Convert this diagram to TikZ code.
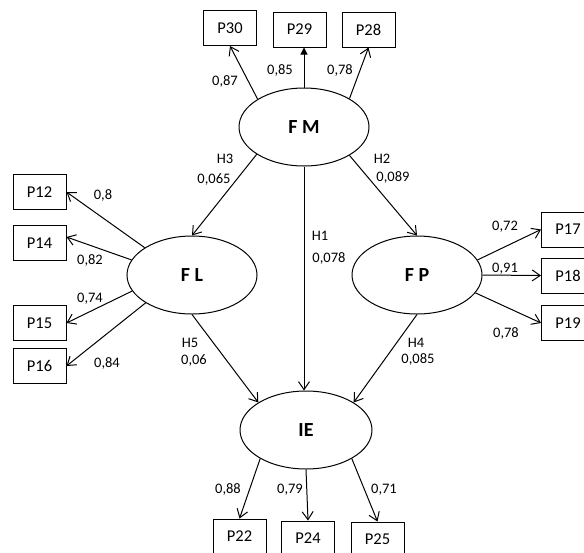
\documentclass[tikz,border=0pt]{standalone}
\usepackage{fontspec}
\setmainfont{Carlito}
\usetikzlibrary{arrows.meta,shapes.geometric}
\begin{document}
\begin{tikzpicture}[x=1pt,y=-1pt,
 box/.style={draw,line width=1pt,minimum width=53pt,minimum height=35pt,inner sep=0pt,font=\fontsize{16.5}{18}\selectfont},
 lat/.style={draw,ellipse,line width=1pt,minimum width=130pt,minimum height=78pt,inner sep=0pt,font=\fontsize{20}{22}\selectfont\bfseries},
 lbl/.style={anchor=base,inner sep=0pt,font=\fontsize{14.5}{16}\selectfont},
 arr/.style={line width=1pt,-{Straight Barb[length=8pt,width=11pt,line width=1pt]}},
 farr/.style={line width=1pt,-{Triangle[length=7pt,width=7pt]}}
 ]
\useasboundingbox (0,0) rectangle (584,552);
\clip (0,0) rectangle (584,552);
% latent variables
\node[lat] (FM) at (304,127) {F M};
\node[lat] (FL) at (192,275) {F L};
\node[lat] (FP) at (417,275) {F P};
\node[lat,minimum width=132pt] (IE) at (306,430) {IE};
% indicators
\node[box] (P30) at (230,28) {P30};
\node[box] (P29) at (299.5,29.5) {P29};
\node[box] (P28) at (368.5,29.5) {P28};
\node[box] (P12) at (39.5,192) {P12};
\node[box] (P14) at (39.5,243) {P14};
\node[box] (P15) at (39.5,323) {P15};
\node[box] (P16) at (39.5,366) {P16};
\node[box] (P17) at (568,229.5) {P17};
\node[box] (P18) at (568,275.5) {P18};
\node[box] (P19) at (568,323) {P19};
\node[box] (P22) at (239.5,536.5) {P22};
\node[box] (P24) at (308,538.5) {P24};
\node[box] (P25) at (377.5,539.5) {P25};
% connectors
\draw[arr] (FM.149.6) -- (P30.south);
\draw[farr] (FM.north) -- (FM.north |- P29.south);
\draw[arr] (FM.32.2) -- (P28.south);
\draw[arr] (FM.210.8) -- (FL.north);
\draw[arr] (FM.328.7) -- (FP.north);
\draw[arr] (FM.south) -- (FM.south |- IE.north);
\draw[arr] (FL.150) -- (P12.east);
\draw[arr] (FL.166.4) -- ([yshift=6pt]P14.east);
\draw[arr] (FL.195.3) -- (P15.east);
\draw[arr] (FL.211.7) -- (P16.east);
\draw[arr] (FL.south) -- (IE.150.6);
\draw[arr] (FP.14.7) -- (P17.west);
\draw[arr] (FP.east) -- (P18.west);
\draw[arr] (FP.343) -- (P19.west);
\draw[arr] (FP.south) -- (IE.30.8);
\draw[arr] (IE.212.2) -- (P22.north);
\draw[arr] (IE.south) -- (P24.north);
\draw[arr] (IE.328.3) -- (P25.north);
% labels
\node[lbl] (l1) at (225,85) {0,87};
\node[lbl] (l2) at (280,74) {0,85};
\node[lbl] (l3) at (340,74) {0,78};
\node[lbl] (l4) at (225,163) {H3};
\node[lbl] (l5) at (214,183) {0,065};
\node[lbl] (l6) at (382,163) {H2};
\node[lbl] (l7) at (393,181) {0,089};
\node[lbl] (l8) at (103,199) {0,8};
\node[lbl] (l9) at (90,264) {0,82};
\node[lbl] (l10) at (90,302) {0,74};
\node[lbl] (l11) at (107,367) {0,84};
\node[lbl] (l12) at (190,347) {H5};
\node[lbl] (l13) at (194,364) {0,06};
\node[lbl] (l14) at (320,240) {H1};
\node[lbl] (l15) at (329,262) {0,078};
\node[lbl] (l16) at (505,230) {0,72};
\node[lbl] (l17) at (505,272) {0,91};
\node[lbl] (l18) at (506,337) {0,78};
\node[lbl] (l19) at (416,347) {H4};
\node[lbl] (l20) at (418,363) {0,085};
\node[lbl] (l21) at (228,493) {0,88};
\node[lbl] (l22) at (290,493) {0,79};
\node[lbl] (l23) at (384,493) {0,71};
\end{tikzpicture}
\end{document}
